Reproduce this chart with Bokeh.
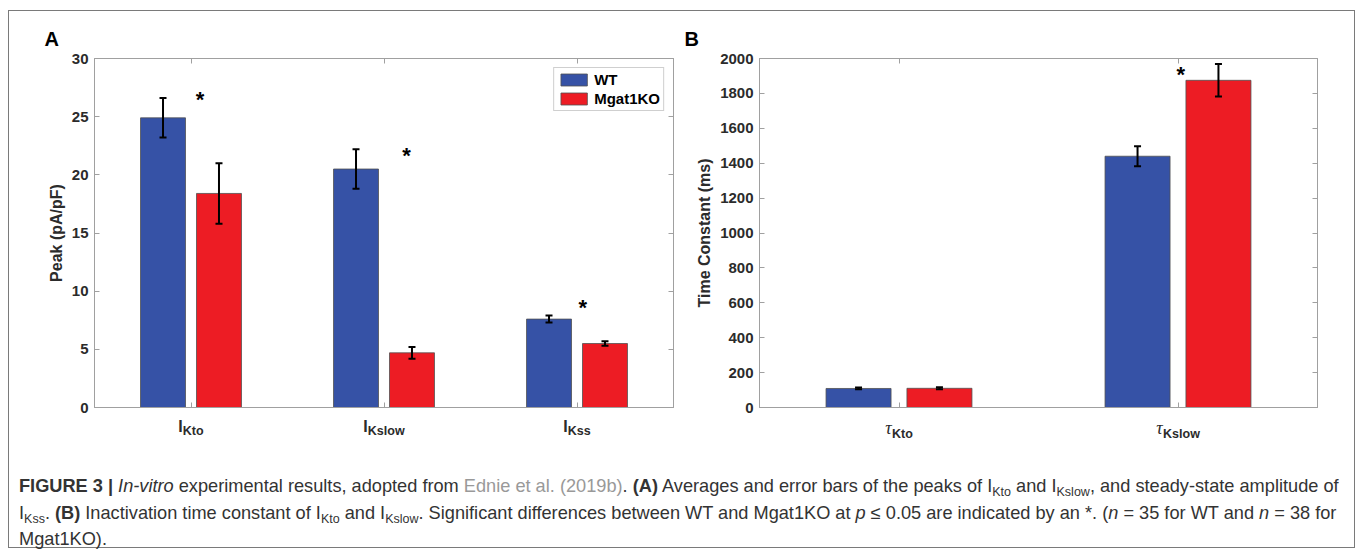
from bokeh.plotting import figure
from bokeh.models import (ColumnDataSource, Whisker, TeeHead, LinearAxis,
                          FixedTicker, Range1d, Legend, LegendItem, Div,
                          CustomJSTickFormatter)
from bokeh.layouts import column, row
from bokeh.embed import file_html
from bokeh.resources import INLINE
from bokeh.core.properties import value

# ---------------- data ----------------
a_categories = ["Kto", "Kslow", "Kss"]
a_wt = [24.9, 20.5, 7.6]
a_wt_err = [1.7, 1.7, 0.3]
a_ko = [18.4, 4.7, 5.5]
a_ko_err = [2.6, 0.5, 0.2]
a_sig_x = [1.047, 2.117, 3.03]
a_sig_y = [26.6, 21.8, 8.7]
a_yticks = [0, 5, 10, 15, 20, 25, 30]

b_categories = ["Kto", "Kslow"]
b_wt = [109, 1440]
b_wt_err = [5, 57]
b_ko = [110, 1875]
b_ko_err = [6, 93]
b_sig_x = [2.01]
b_sig_y = [1916]
b_yticks = [0, 200, 400, 600, 800, 1000, 1200, 1400, 1600, 1800, 2000]

series_names = ["WT", "Mgat1KO"]
BLUE = "#3652a6"
RED = "#ed1c24"
AXC = "#a0a0a0"
TXT = "#2b2b2b"
FONT = "Liberation Sans"

# approximate advance widths (em) for Liberation Sans Bold
W = {"K": .722, "t": .333, "o": .611, "s": .556, "l": .278, "w": .778, "I": .278}


def text_w(s, size):
    return sum(W.get(c, .6) for c in s) * size


def blank():
    return CustomJSTickFormatter(code="return '';")


def make_panel(cats, wt, wt_err, ko, ko_err, sig_x, sig_y, yticks, ymax, ylabel,
               letter, prefix, frame_w, border_left, border_right, letter_dx, legend):
    n = len(cats)
    xs = list(range(1, n + 1))
    p = figure(frame_width=frame_w, frame_height=349,
               x_range=Range1d(0.5, n + 0.5), y_range=Range1d(0, ymax),
               output_backend="svg", toolbar_location=None,
               min_border_left=border_left, min_border_right=border_right,
               min_border_top=47, min_border_bottom=38)
    p.xgrid.visible = False
    p.ygrid.visible = False
    p.outline_line_color = AXC
    p.outline_line_width = 1

    # panel letter as title
    p.title.text = letter
    p.title.align = "left"
    p.title.offset = letter_dx
    p.title.standoff = 17
    p.title.text_font = FONT
    p.title.text_font_style = "bold"
    p.title.text_font_size = "20px"
    p.title.text_color = "black"

    off, bw = 0.145, 0.233
    src_wt = ColumnDataSource(dict(x=[x - off for x in xs], top=wt,
                                   upper=[v + e for v, e in zip(wt, wt_err)],
                                   lower=[v - e for v, e in zip(wt, wt_err)]))
    src_ko = ColumnDataSource(dict(x=[x + off for x in xs], top=ko,
                                   upper=[v + e for v, e in zip(ko, ko_err)],
                                   lower=[v - e for v, e in zip(ko, ko_err)]))
    r_wt = p.vbar(x="x", top="top", width=bw, source=src_wt, fill_color=BLUE,
                  line_color="#505050", line_width=0.8)
    r_ko = p.vbar(x="x", top="top", width=bw, source=src_ko, fill_color=RED,
                  line_color="#505050", line_width=0.8)
    for s in (src_wt, src_ko):
        p.add_layout(Whisker(source=s, base="x", upper="upper", lower="lower",
                             line_color="black", line_width=2, level="overlay",
                             upper_head=TeeHead(size=7, line_width=2, line_color="black"),
                             lower_head=TeeHead(size=7, line_width=2, line_color="black")))

    p.text(x=sig_x, y=sig_y, text=["*"] * len(sig_x), text_font=value(FONT),
           text_font_style="bold", text_font_size="22px", text_color="black",
           text_align="center", text_baseline="alphabetic", y_offset=1.5)

    # axes styling
    for ax in (p.xaxis[0], p.yaxis[0]):
        ax.axis_line_color = AXC
        ax.major_tick_line_color = AXC
        ax.major_tick_in = 5
        ax.major_tick_out = 0
        ax.minor_tick_line_color = None
    p.xaxis.ticker = FixedTicker(ticks=xs)
    p.xaxis.formatter = blank()
    p.xaxis.major_label_text_font_size = "0px"
    p.xaxis.major_label_standoff = 0
    p.yaxis.ticker = FixedTicker(ticks=yticks)
    p.yaxis.major_label_text_font = FONT
    p.yaxis.major_label_text_font_style = "bold"
    p.yaxis.major_label_text_font_size = "15px"
    p.yaxis.major_label_text_color = TXT
    p.yaxis.major_label_standoff = 6
    p.yaxis.axis_label = ylabel
    p.yaxis.axis_label_text_font = FONT
    p.yaxis.axis_label_text_font_style = "bold"
    p.yaxis.axis_label_text_font_size = "16px"
    p.yaxis.axis_label_text_color = TXT
    p.yaxis.axis_label_standoff = 4

    for loc, tk in (("right", yticks), ("above", xs)):
        ax = LinearAxis(ticker=FixedTicker(ticks=tk), formatter=blank(),
                        major_label_text_font_size="0px",
                        major_label_standoff=0, axis_line_color=AXC,
                        major_tick_line_color=AXC, major_tick_in=5, major_tick_out=0,
                        minor_tick_line_color=None)
        p.add_layout(ax, loc)

    # category labels: "I" (or tau) followed by a bold subscript, as two label-only axes
    ppu = frame_w / n
    pre_size, sub_size = 16, 12.5
    pre_w = 7.0 if prefix == "τ" else text_w("I", pre_size)
    pre_pos, sub_pos = [], []
    for x, c in zip(xs, cats):
        tot = pre_w + text_w(c, sub_size)
        start = -tot / 2
        pre_pos.append(x + (start + pre_w / 2) / ppu)
        sub_pos.append(x + (start + pre_w + text_w(c, sub_size) / 2) / ppu)
    pre_axis = LinearAxis(ticker=FixedTicker(ticks=pre_pos),
                          formatter=CustomJSTickFormatter(args=dict(s=prefix), code="return s;"),
                          axis_line_color=None, major_tick_line_color=None,
                          minor_tick_line_color=None, major_label_standoff=4,
                          major_label_text_font="Liberation Serif" if prefix == "τ" else FONT,
                          major_label_text_font_style="italic" if prefix == "τ" else "bold",
                          major_label_text_font_size="18px" if prefix == "τ" else f"{pre_size}px",
                          major_label_text_color=TXT)
    sub_axis = LinearAxis(ticker=FixedTicker(ticks=sub_pos),
                          formatter=CustomJSTickFormatter(args=dict(labels=cats),
                                                          code="return labels[index];"),
                          axis_line_color=None, major_tick_line_color=None,
                          minor_tick_line_color=None, major_label_standoff=-20,
                          major_label_text_font=FONT, major_label_text_font_style="bold",
                          major_label_text_font_size=f"{sub_size}px",
                          major_label_text_color=TXT)
    p.add_layout(pre_axis, "below")
    p.add_layout(sub_axis, "below")

    if legend:
        lg = Legend(items=[LegendItem(label=series_names[0], renderers=[r_wt]),
                           LegendItem(label=series_names[1], renderers=[r_ko])],
                    location="top_right", margin=9, padding=3, spacing=2,
                    glyph_width=33, glyph_height=15, label_standoff=4,
                    label_text_font=FONT, label_text_font_style="bold",
                    label_text_font_size="15px", label_text_color="black",
                    border_line_color=AXC, background_fill_alpha=1.0)
        p.add_layout(lg)
    return p


pA = make_panel(a_categories, a_wt, a_wt_err, a_ko, a_ko_err, a_sig_x, a_sig_y,
                a_yticks, 30, "Peak (pA/pF)", "A", "I", 579, 85, 7, -50, True)
pB = make_panel(b_categories, b_wt, b_wt_err, b_ko, b_ko_err, b_sig_x, b_sig_y,
                b_yticks, 2000, "Time Constant (ms)", "B", "τ", 558, 79, 37, -75, False)

SUB = '<span style="font-size:12.5px;position:relative;top:4px;">%s</span>'
caption_html = (
    '<div style="font-family:\'Liberation Sans\',Arial,sans-serif;font-size:18.2px;'
    'color:#333;line-height:24.5px;white-space:nowrap;padding:29px 0 0 10px;margin:0;">'
    '<b>FIGURE 3 |</b> <i>In-vitro</i> experimental results, adopted from '
    '<span style="color:#999;">Ednie et al. (2019b)</span>. <b>(A)</b> Averages and error bars '
    'of the peaks of I' + SUB % 'Kto' + ' and I' + SUB % 'Kslow' +
    ', and steady-state amplitude of<br>'
    'I' + SUB % 'Kss' + '. <b>(B)</b> Inactivation time constant of I' + SUB % 'Kto' +
    ' and I' + SUB % 'Kslow' + '. Significant differences between WT and Mgat1KO at '
    '<i>p</i> &le; 0.05 are indicated by an *. (<i>n</i> = 35 for WT and <i>n</i> = 38 for<br>'
    'Mgat1KO).</div>'
)
cap = Div(text=caption_html, width=1345, height=102, margin=0)

layout = column(row(pA, pB), cap, margin=(10, 0, 0, 8),
                styles={"border": "1px solid #7a7a7a"})

open("out.html", "w").write(file_html(layout, INLINE))
